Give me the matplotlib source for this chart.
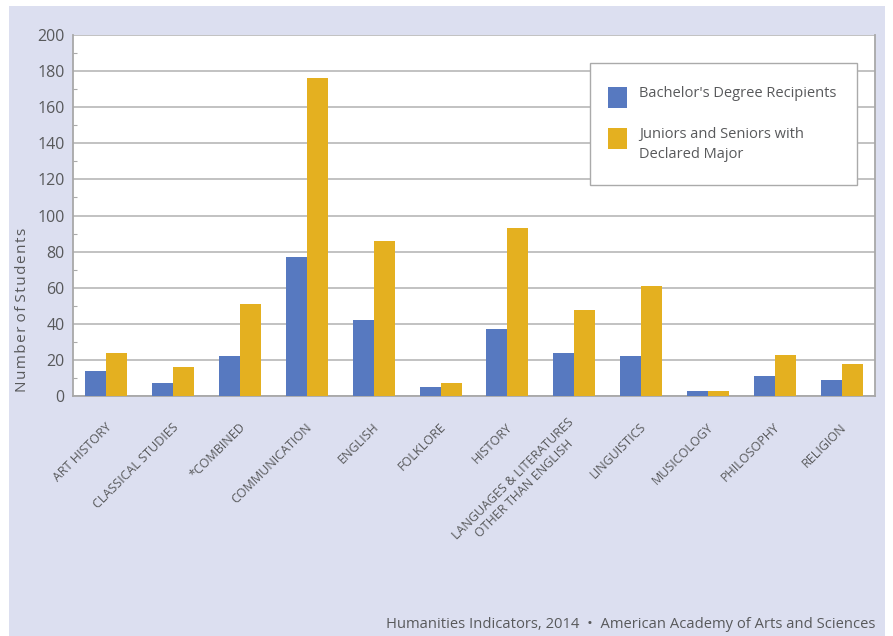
import numpy as np
import matplotlib
matplotlib.use("Agg")
import matplotlib.pyplot as plt
import matplotlib.transforms as mtransforms
from matplotlib.patches import Rectangle

# data
categories = ["ART HISTORY", "CLASSICAL STUDIES", "*COMBINED", "COMMUNICATION",
              "ENGLISH", "FOLKLORE", "HISTORY",
              "LANGUAGES & LITERATURES\nOTHER THAN ENGLISH", "LINGUISTICS",
              "MUSICOLOGY", "PHILOSOPHY", "RELIGION"]
bachelors = [14, 7, 22, 77, 42, 5, 37, 24, 22, 2.5, 11, 9]
juniors_seniors = [24, 16, 51, 176, 86, 7, 93, 47.5, 61, 3, 22.5, 17.5]
series_labels = ["Bachelor's Degree Recipients",
                 "Juniors and Seniors with\nDeclared Major"]
y_ticks = list(range(0, 201, 20))

BLUE = "#5779c0"
GOLD = "#e4b020"
PANEL = "#dcdff0"
TEXT = "#58595b"
GRID = "#bdbdbd"

W, H = 893, 636
plt.rcParams["font.family"] = ["Open Sans", "DejaVu Sans"]

fig = plt.figure(figsize=(W / 100, H / 100), dpi=100)
fig.patch.set_facecolor("white")


def px(x, y):
    # figure fraction from pixel position (origin top left)
    return x / W, 1 - y / H


fig.patches.append(Rectangle(px(9, H), 876 / W, 1 - 6 / H,
                             transform=fig.transFigure, facecolor=PANEL,
                             edgecolor="none", zorder=-10))

ax = fig.add_axes([73 / W, 1 - 396 / H, 802 / W, 361 / H])
ax.set_facecolor("white")

x = np.arange(len(categories))
w = 0.315
colors = [BLUE, GOLD]
ax.bar(x - w / 2, bachelors, w, color=colors[0], zorder=3)
ax.bar(x + w / 2, juniors_seniors, w, color=colors[1], zorder=3)

ax.set_xlim(-0.5, len(categories) - 0.5)
ax.set_ylim(0, 200)
ax.set_yticks(y_ticks)
ax.set_yticks(range(10, 200, 20), minor=True)
ax.grid(axis="y", color=GRID, linewidth=1.3, zorder=0)
ax.tick_params(axis="y", which="major", length=0, pad=6, labelsize=11.5,
               labelcolor=TEXT)
ax.tick_params(axis="y", which="minor", direction="in", length=3,
               color="#aaaaaa", width=0.8)

ax.set_xticks(x)
ax.set_xticklabels(categories, rotation=45, ha="right", va="center",
                   rotation_mode="anchor", fontsize=9, color=TEXT,
                   multialignment="center")
ax.tick_params(axis="x", length=0, pad=21)
offset = mtransforms.ScaledTranslation(3 / 100, 0, fig.dpi_scale_trans)
for lbl in ax.get_xticklabels():
    lbl.set_transform(lbl.get_transform() + offset)

for side in ["left", "bottom", "right"]:
    ax.spines[side].set_color("#a8a8a8")
    ax.spines[side].set_linewidth(1.3)
ax.spines["top"].set_visible(False)

ylabel = " ".join("\u200a".join(word) for word in "Number of Students".split())
fig.text(*px(23, 310), ylabel, rotation=90, ha="center", va="center",
         fontsize=11, color=TEXT)

# legend box drawn by hand so the handle sits on the first text line
fig.patches.append(Rectangle(px(590, 185), 267 / W, 122 / H,
                             transform=fig.transFigure, facecolor="white",
                             edgecolor="#aaaaaa", linewidth=1.0, zorder=5))
for top, color, label in zip([87, 128], colors, series_labels):
    fig.patches.append(Rectangle(px(608, top + 21), 19 / W, 21 / H,
                                 transform=fig.transFigure, facecolor=color,
                                 edgecolor="none", zorder=6))
    fig.text(*px(639, top - 1), label, ha="left", va="top", fontsize=10.5,
             color=TEXT, linespacing=1.45, zorder=7)

fig.text(*px(875, 625),
         "Humanities Indicators, 2014  \u2022  American Academy of Arts and Sciences",
         ha="right", va="center", fontsize=10.6, color=TEXT)

fig.savefig("out.png", dpi=100, facecolor=fig.get_facecolor())
